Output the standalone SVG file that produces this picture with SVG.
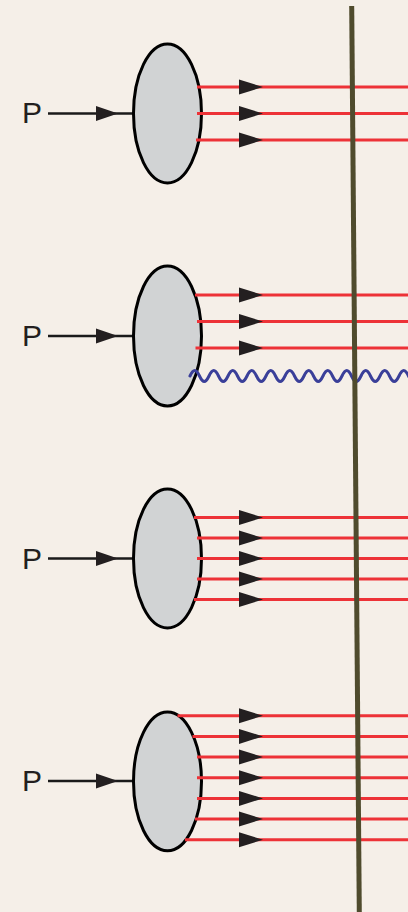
<svg xmlns="http://www.w3.org/2000/svg" xmlns:xlink="http://www.w3.org/1999/xlink" width="408" height="912" viewBox="0 0 408 912">
  <style>
    .bg { fill: #f5efe8; }
    .blob { fill: #d1d3d4; stroke: #000000; stroke-width: 3; }
    .parton { stroke: #ed3237; stroke-width: 3; fill: none; }
    .beam { stroke: #1a1a1a; stroke-width: 2.5; fill: none; }
    .head { fill: #231f20; }
    .label { font-family: "Liberation Sans", Arial, sans-serif; font-size: 30px; fill: #231f20; }
    .photon { stroke: #3a3f99; stroke-width: 3; fill: none; stroke-linecap: round; }
    .cut { stroke: #4f4b2d; stroke-width: 5; fill: none; }
  </style>
  <defs>
    <path id="ah" d="M0,-7.5 L24,0 L0,7.5 Z"/>
    <path id="pah" d="M0,-7.5 L22,0 L0,7.5 Z"/>
  </defs>
  <rect class="bg" x="0" y="0" width="408" height="912"/>

  <g id="node1">
    <text class="label" x="22" y="123">P</text>
    <line class="beam" x1="48" y1="113.5" x2="134" y2="113.5"/>
    <use class="head" xlink:href="#pah" x="96" y="113.5"/>
    <ellipse class="blob" cx="167.5" cy="113.5" rx="34" ry="69.5"/>
  </g>
  <g id="node2">
    <text class="label" x="22" y="346">P</text>
    <line class="beam" x1="48" y1="336" x2="134" y2="336"/>
    <use class="head" xlink:href="#pah" x="96" y="336"/>
    <ellipse class="blob" cx="167.5" cy="336" rx="34" ry="70"/>
  </g>
  <g id="node3">
    <text class="label" x="22" y="568.5">P</text>
    <line class="beam" x1="48" y1="558.5" x2="134" y2="558.5"/>
    <use class="head" xlink:href="#pah" x="96" y="558.5"/>
    <ellipse class="blob" cx="167.5" cy="558.5" rx="34" ry="69.5"/>
  </g>
  <g id="node4">
    <text class="label" x="22" y="791">P</text>
    <line class="beam" x1="48" y1="781" x2="134" y2="781"/>
    <use class="head" xlink:href="#pah" x="96" y="781"/>
    <ellipse class="blob" cx="167.5" cy="781.4" rx="34" ry="69.4"/>
  </g>

  <g id="connectors">
    <!-- node 1 partons -->
    <line class="parton" x1="197" y1="87" x2="408" y2="87"/>
    <line class="parton" x1="197" y1="113.5" x2="408" y2="113.5"/>
    <line class="parton" x1="196" y1="140" x2="408" y2="140"/>
    <!-- node 2 partons -->
    <line class="parton" x1="195" y1="295" x2="408" y2="295"/>
    <line class="parton" x1="197" y1="321.5" x2="408" y2="321.5"/>
    <line class="parton" x1="195.5" y1="348" x2="408" y2="348"/>
    <path class="photon" d="M190,376 c3.5,-7.3 6,-7.3 9.5,0 c3.5,7.3 6,7.3 9.5,0 c3.5,-7.3 6,-7.3 9.5,0 c3.5,7.3 6,7.3 9.5,0 c3.5,-7.3 6,-7.3 9.5,0 c3.5,7.3 6,7.3 9.5,0 c3.5,-7.3 6,-7.3 9.5,0 c3.5,7.3 6,7.3 9.5,0 c3.5,-7.3 6,-7.3 9.5,0 c3.5,7.3 6,7.3 9.5,0 c3.5,-7.3 6,-7.3 9.5,0 c3.5,7.3 6,7.3 9.5,0 c3.5,-7.3 6,-7.3 9.5,0 c3.5,7.3 6,7.3 9.5,0 c3.5,-7.3 6,-7.3 9.5,0 c3.5,7.3 6,7.3 9.5,0 c3.5,-7.3 6,-7.3 9.5,0 c3.5,7.3 6,7.3 9.5,0 c3.5,-7.3 6,-7.3 9.5,0 c3.5,7.3 6,7.3 9.5,0 c3.5,-7.3 6,-7.3 9.5,0 c3.5,7.3 6,7.3 9.5,0 c3.5,-7.3 6,-7.3 9.5,0 c3.5,7.3 6,7.3 9.5,0"/>
    <!-- node 3 partons -->
    <line class="parton" x1="194" y1="517.5" x2="408" y2="517.5"/>
    <line class="parton" x1="197" y1="538" x2="408" y2="538"/>
    <line class="parton" x1="197" y1="558.5" x2="408" y2="558.5"/>
    <line class="parton" x1="197" y1="579" x2="408" y2="579"/>
    <line class="parton" x1="194" y1="599.5" x2="408" y2="599.5"/>
    <!-- node 4 partons -->
    <line class="parton" x1="177.5" y1="715.7" x2="408" y2="715.7"/>
    <line class="parton" x1="192.5" y1="736.4" x2="408" y2="736.4"/>
    <line class="parton" x1="197" y1="757" x2="408" y2="757"/>
    <line class="parton" x1="197" y1="777.7" x2="408" y2="777.7"/>
    <line class="parton" x1="197" y1="798.4" x2="408" y2="798.4"/>
    <line class="parton" x1="195" y1="819" x2="408" y2="819"/>
    <line class="parton" x1="185" y1="839.7" x2="408" y2="839.7"/>
    <!-- arrowheads -->
    <use class="head" xlink:href="#ah" x="239" y="87"/>
    <use class="head" xlink:href="#ah" x="239" y="113.5"/>
    <use class="head" xlink:href="#ah" x="239" y="140"/>
    <use class="head" xlink:href="#ah" x="239" y="295"/>
    <use class="head" xlink:href="#ah" x="239" y="321.5"/>
    <use class="head" xlink:href="#ah" x="239" y="348"/>
    <use class="head" xlink:href="#ah" x="239" y="517.5"/>
    <use class="head" xlink:href="#ah" x="239" y="538"/>
    <use class="head" xlink:href="#ah" x="239" y="558.5"/>
    <use class="head" xlink:href="#ah" x="239" y="579"/>
    <use class="head" xlink:href="#ah" x="239" y="599.5"/>
    <use class="head" xlink:href="#ah" x="239" y="715.7"/>
    <use class="head" xlink:href="#ah" x="239" y="736.4"/>
    <use class="head" xlink:href="#ah" x="239" y="757"/>
    <use class="head" xlink:href="#ah" x="239" y="777.7"/>
    <use class="head" xlink:href="#ah" x="239" y="798.4"/>
    <use class="head" xlink:href="#ah" x="239" y="819"/>
    <use class="head" xlink:href="#ah" x="239" y="839.7"/>
    <!-- cut line -->
    <line class="cut" x1="351.7" y1="6" x2="359.3" y2="912"/>
  </g>
</svg>
